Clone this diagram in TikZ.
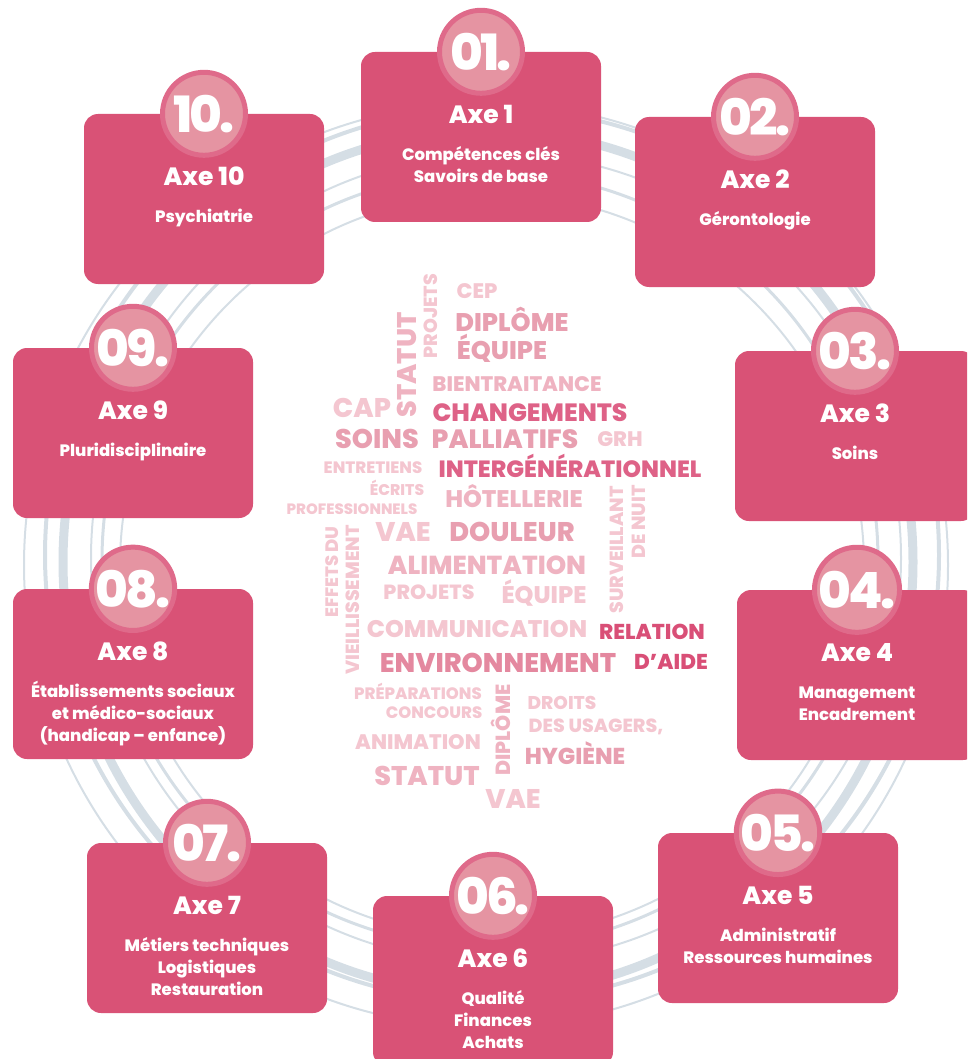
\documentclass[tikz,border=0pt]{standalone}
\usepackage{fontspec}
\setmainfont{Poppins}
\newfontfamily\numfont{Poppins ExtraBold}[LetterSpace=-6]
\newfontfamily\heavyfont{Poppins ExtraBold}
\usetikzlibrary{positioning}

\definecolor{axered}{HTML}{D95276}
\definecolor{badgein}{HTML}{E594A2}
\definecolor{badgering}{HTML}{DF6A8A}
\definecolor{ringgrey}{HTML}{D5DEE5}
\definecolor{wcA}{HTML}{F4C6D0}
\definecolor{wcB}{HTML}{EFB3C1}
\definecolor{wcC}{HTML}{E89FB0}
\definecolor{wcD}{HTML}{E4889F}
\definecolor{wcE}{HTML}{DE6287}
\definecolor{wcF}{HTML}{D94F77}

\newcommand{\fsz}[1]{\fontsize{#1}{#1}\selectfont}

\begin{document}
\begin{tikzpicture}[x=1pt, y=-1pt,
    axe/.style={rectangle, rounded corners=14pt, fill=axered, minimum width=240pt, minimum height=170pt, inner sep=0pt},
    badge/.style={circle, fill=badgein, draw=badgering, line width=5pt, minimum size=83pt, inner sep=0pt, text=white, font=\numfont\fsz{50}},
    axetitle/.style={anchor=base, text=white, inner sep=0pt, font=\heavyfont\fsz{25}},
    axetext/.style={anchor=base, text=white, inner sep=0pt, align=center, font=\heavyfont\fontsize{16.5}{22}\selectfont},
    ring/.style={draw=ringgrey},
    word/.style={anchor=base, inner sep=0pt},
    vword/.style={anchor=center, rotate=90, inner sep=0pt}]
  \useasboundingbox (0,0) rectangle (967,1059);
  \clip (0,0) rectangle (967,1059);

  % swirl in the background
  \draw[ring, line width=2pt] (492,566) circle[radius=372];
  \draw[ring, line width=3pt] (490,560) circle[radius=388];
  \draw[ring, line width=2pt] (496,558) circle[radius=405];
  \draw[ring, line width=9pt] (488,562) ellipse[x radius=425, y radius=432];
  \draw[ring, line width=4pt] (492,555) circle[radius=447];
  \draw[ring, line width=2pt] (486,565) circle[radius=462];

  % word cloud
  \node[vword, text=wcA, font=\heavyfont\fsz{19}] (wProjetsA) at (431,316) {PROJETS};
  \node[vword, text=wcB, font=\heavyfont\fsz{27}] (wStatutA) at (407,365) {STATUT};
  \node[word, text=wcA, font=\heavyfont\fsz{21}] (wCep) at (477,298) {CEP};
  \node[word, text=wcC, font=\heavyfont\fsz{25.5}] (wDiplomeA) at (512,331) {DIPLÔME};
  \node[word, text=wcC, font=\heavyfont\fsz{25.5}] (wEquipeA) at (502,359) {ÉQUIPE};
  \node[word, text=wcB, font=\heavyfont\fsz{21}] (wBientr) at (517,391) {BIENTRAITANCE};
  \node[word, text=wcA, font=\heavyfont\fsz{27}] (wCap) at (362,417) {CAP};
  \node[word, text=wcE, font=\heavyfont\fsz{25}] (wChang) at (530,421) {CHANGEMENTS};
  \node[word, text=wcC, font=\heavyfont\fsz{27}] (wSoins) at (377,448) {SOINS};
  \node[word, text=wcC, font=\heavyfont\fsz{26.5}] (wPallia) at (505,448) {PALLIATIFS};
  \node[word, text=wcA, font=\heavyfont\fsz{21}] (wGrh) at (620,446) {GRH};
  \node[word, text=wcA, font=\heavyfont\fsz{16.5}] (wEntret) at (373,473) {ENTRETIENS};
  \node[word, text=wcE, font=\heavyfont\fsz{23.5}] (wInterg) at (570,477) {INTERGÉNÉRATIONNEL};
  \node[word, text=wcA, font=\heavyfont\fsz{15.5}] (wEcrits) at (397,495) {ÉCRITS};
  \node[word, text=wcA, font=\heavyfont\fsz{15}] (wProfes) at (352,514) {PROFESSIONNELS};
  \node[word, text=wcB, font=\heavyfont\fsz{24}] (wHotel) at (514,507) {HÔTELLERIE};
  \node[vword, text=wcA, font=\heavyfont\fsz{19}] (wSurv) at (617,550) {SURVEILLANT};
  \node[vword, text=wcA, font=\heavyfont\fsz{19}] (wNuit) at (639,522) {DE NUIT};
  \node[word, text=wcA, font=\heavyfont\fsz{27}] (wVaeA) at (403,541) {VAE};
  \node[word, text=wcC, font=\heavyfont\fsz{27}] (wDouleur) at (512,541) {DOULEUR};
  \node[vword, text=wcA, font=\heavyfont\fsz{18}] (wEffets) at (332,572) {EFFETS DU};
  \node[vword, text=wcA, font=\heavyfont\fsz{19}] (wVieil) at (353,600) {VIEILLISSEMENT};
  \node[word, text=wcB, font=\heavyfont\fsz{26}] (wAlim) at (487,574) {ALIMENTATION};
  \node[word, text=wcA, font=\heavyfont\fsz{20.5}] (wProjetsB) at (429,599) {PROJETS};
  \node[word, text=wcA, font=\heavyfont\fsz{24}] (wEquipeB) at (544,603) {ÉQUIPE};
  \node[word, text=wcA, font=\heavyfont\fsz{24}] (wComm) at (477,637) {COMMUNICATION};
  \node[word, text=wcF, font=\heavyfont\fsz{21.5}] (wRelation) at (652,639) {RELATION};
  \node[word, text=wcD, font=\heavyfont\fsz{27}] (wEnviron) at (498,672) {ENVIRONNEMENT};
  \node[word, text=wcF, font=\heavyfont\fsz{21.5}] (wAide) at (671,669) {D’AIDE};
  \node[word, text=wcA, font=\heavyfont\fsz{16.5}] (wPrepa) at (418,699) {PRÉPARATIONS};
  \node[word, text=wcA, font=\heavyfont\fsz{16.5}] (wConcours) at (434,718) {CONCOURS};
  \node[vword, text=wcB, font=\heavyfont\fsz{20.5}] (wDiplomeB) at (501,730) {DIPLÔME};
  \node[word, text=wcA, font=\heavyfont\fsz{18.5}] (wDroits) at (562,709) {DROITS};
  \node[word, text=wcA, font=\heavyfont\fsz{19}] (wUsagers) at (596,732) {DES USAGERS,};
  \node[word, text=wcA, font=\heavyfont\fsz{21}] (wAnim) at (418,749) {ANIMATION};
  \node[word, text=wcC, font=\heavyfont\fsz{23}] (wHygiene) at (575,764) {HYGIÈNE};
  \node[word, text=wcB, font=\heavyfont\fsz{27}] (wStatutB) at (427,785) {STATUT};
  \node[word, text=wcA, font=\heavyfont\fsz{27}] (wVaeB) at (513,808) {VAE};

  % the ten axes
  \node[axe] (axe1) at (481,137) {};
  \node[axe] (axe2) at (755,202) {};
  \node[axe] (axe3) at (855,436) {};
  \node[axe] (axe4) at (857,675) {};
  \node[axe] (axe5) at (778,918) {};
  \node[axe] (axe6) at (493,981) {};
  \node[axe] (axe7) at (207,928) {};
  \node[axe] (axe8) at (133,674) {};
  \node[axe] (axe9) at (133,433) {};
  \node[axe] (axe10) at (204,199) {};

  \node[badge] (num1) at (axe1.north) {01.};
  \node[badge] (num2) at (axe2.north) {02.};
  \node[badge] (num3) at (axe3.north) {03.};
  \node[badge] (num4) at (axe4.north) {04.};
  \node[badge] (num5) at (axe5.north) {05.};
  \node[badge] (num6) at (axe6.north) {06.};
  \node[badge] (num7) at (axe7.north) {07.};
  \node[badge] (num8) at (axe8.north) {08.};
  \node[badge] (num9) at (axe9.north) {09.};
  \node[badge] (num10) at (axe10.north) {10.};

  \node[axetitle] (title1) at ([yshift=-72pt]axe1.north) {Axe 1};
  \node[axetitle] (title2) at ([yshift=-72pt]axe2.north) {Axe 2};
  \node[axetitle] (title3) at ([yshift=-72pt]axe3.north) {Axe 3};
  \node[axetitle] (title4) at ([yshift=-72pt]axe4.north) {Axe 4};
  \node[axetitle] (title5) at ([yshift=-72pt]axe5.north) {Axe 5};
  \node[axetitle] (title6) at ([yshift=-72pt]axe6.north) {Axe 6};
  \node[axetitle] (title7) at ([yshift=-72pt]axe7.north) {Axe 7};
  \node[axetitle] (title8) at ([yshift=-72pt]axe8.north) {Axe 8};
  \node[axetitle] (title9) at ([yshift=-72pt]axe9.north) {Axe 9};
  \node[axetitle] (title10) at ([yshift=-72pt]axe10.north) {Axe 10};

  % base anchor sits on the last line
  \node[axetext] (sub1) at ([yshift=-131pt]axe1.north) {Compétences clés\\Savoirs de base};
  \node[axetext] (sub2) at ([yshift=-109pt]axe2.north) {Gérontologie};
  \node[axetext] (sub3) at ([yshift=-109pt]axe3.north) {Soins};
  \node[axetext] (sub4) at ([yshift=-131pt]axe4.north) {Management\\Encadrement};
  \node[axetext] (sub5) at ([yshift=-131pt]axe5.north) {Administratif\\Ressources humaines};
  \node[axetext] (sub6) at ([yshift=-153pt]axe6.north) {Qualité\\Finances\\Achats};
  \node[axetext] (sub7) at ([yshift=-153pt]axe7.north) {Métiers techniques\\Logistiques\\Restauration};
  \node[axetext] (sub8) at ([yshift=-153pt]axe8.north) {Établissements sociaux\\et médico-sociaux\\(handicap – enfance)};
  \node[axetext] (sub9) at ([yshift=-109pt]axe9.north) {Pluridisciplinaire};
  \node[axetext] (sub10) at ([yshift=-109pt]axe10.north) {Psychiatrie};
\end{tikzpicture}
\end{document}
